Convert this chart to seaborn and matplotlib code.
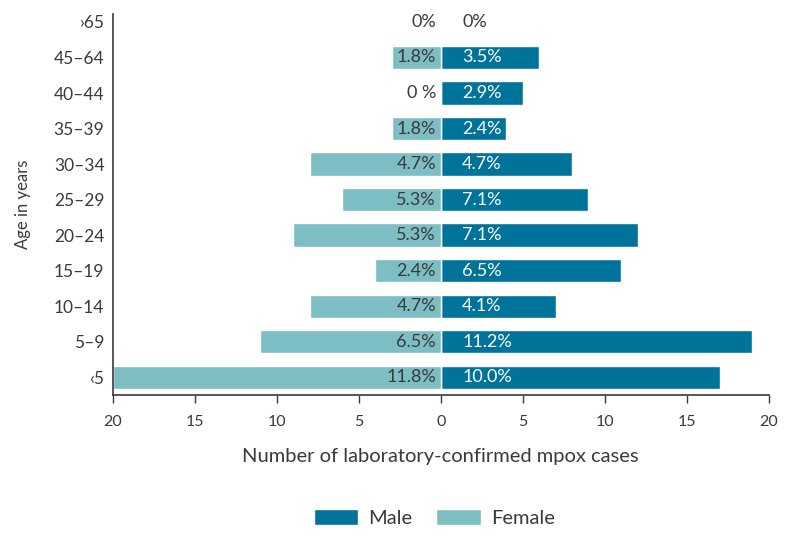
import seaborn as sns
import matplotlib.pyplot as plt
import pandas as pd

ages = ["\u203a65", "45\u201364", "40\u201344", "35\u201339", "30\u201334", "25\u201329",
        "20\u201324", "15\u201319", "10\u201314", "5\u20139", "\u20395"]
male = [0, 6, 5, 4, 8, 9, 12, 11, 7, 19, 17]
female = [0, 3, 0, 3, 8, 6, 9, 4, 8, 11, 20]
male_pct = ["0%", "3.5%", "2.9%", "2.4%", "4.7%", "7.1%", "7.1%", "6.5%", "4.1%", "11.2%", "10.0%"]
female_pct = ["0%", "1.8%", "0 %", "1.8%", "4.7%", "5.3%", "5.3%", "2.4%", "4.7%", "6.5%", "11.8%"]

male_col = "#00739a"
female_col = "#7dbec4"
dark = "#3a3a3a"

df = pd.concat([
    pd.DataFrame({"age": ages, "cases": male, "sex": "Male"}),
    pd.DataFrame({"age": ages, "cases": [-v for v in female], "sex": "Female"}),
])

sns.set_style("white")
plt.rcParams["font.family"] = ["Lato", "DejaVu Sans"]

fig = plt.figure(figsize=(8, 5.51), dpi=100)
ax = fig.add_axes([0.141, 0.283, 0.82, 0.692])

sns.barplot(data=df, x="cases", y="age", hue="sex", order=ages, hue_order=["Male", "Female"],
            palette={"Male": male_col, "Female": female_col}, dodge=False, width=0.66,
            saturation=1, orient="h", ax=ax, legend=True)

for i in range(len(ages)):
    ax.text(-0.3, i, female_pct[i], ha="right", va="center", fontsize=13, color=dark)
    mc = dark if male[i] == 0 else "white"
    ax.text(1.3, i, male_pct[i], ha="left", va="center", fontsize=13, color=mc)

ax.set_xlim(-20, 20)
ax.set_ylim(10.5, -0.23)
ax.set_xticks(range(-20, 21, 5))
ax.set_xticklabels([str(abs(v)) for v in range(-20, 21, 5)], fontsize=11.5, color=dark)
ax.tick_params(axis="x", direction="out", length=6, width=1, color=dark, pad=8, bottom=True)
ax.tick_params(axis="y", length=0, labelsize=12.5, labelcolor=dark, pad=6)
for s in ["top", "right"]:
    ax.spines[s].set_visible(False)
for s in ["left", "bottom"]:
    ax.spines[s].set_color(dark)
    ax.spines[s].set_linewidth(1.2)

ax.set_xlabel("Number of laboratory-confirmed mpox cases", fontsize=14.5, color=dark, labelpad=14)
ax.set_ylabel("Age in years", fontsize=12, color=dark, labelpad=16)

h, l = ax.get_legend_handles_labels()
ax.legend(h, l, loc="upper center", bbox_to_anchor=(0.49, -0.25), ncol=2, frameon=False,
          fontsize=14.5, handlelength=2.2, handleheight=0.9, handletextpad=0.5,
          columnspacing=1.2, labelcolor=dark)

fig.savefig("out.png", dpi=100)
